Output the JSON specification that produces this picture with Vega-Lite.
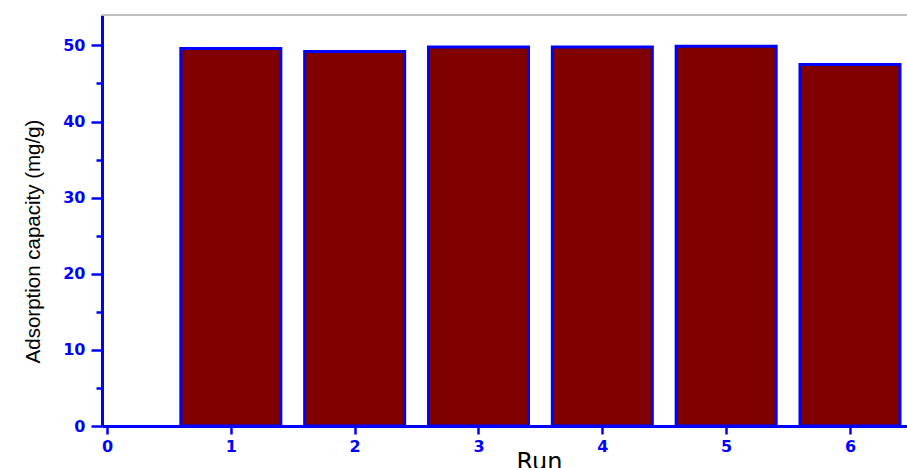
{
  "$schema": "https://vega.github.io/schema/vega-lite/v6.json",
  "width": 805,
  "height": 411,
  "autosize": "none",
  "padding": {"left": 102, "top": 15, "right": 0, "bottom": 42},
  "background": "white",
  "config": {"view": {"stroke": null}, "font": "Liberation Sans"},
  "data": {
    "values": [
      {"run": 1, "capacity": 49.6},
      {"run": 2, "capacity": 49.2},
      {"run": 3, "capacity": 49.8},
      {"run": 4, "capacity": 49.8},
      {"run": 5, "capacity": 49.9},
      {"run": 6, "capacity": 47.5}
    ]
  },
  "layer": [
    {
      "mark": {"type": "rule", "color": "#c0c0c0", "strokeWidth": 2},
      "encoding": {"y": {"datum": 54, "type": "quantitative"}}
    },
    {
      "mark": {"type": "bar", "fill": "#800000", "stroke": "#0000ff", "strokeWidth": 3, "width": 100},
      "encoding": {
        "x": {
          "field": "run",
          "type": "quantitative",
          "scale": {"domain": [0, 6.42], "nice": false, "zero": false},
          "axis": {
            "title": "Run",
            "format": "d",
            "values": [0, 0.5, 1, 1.5, 2, 2.5, 3, 3.5, 4, 4.5, 5, 5.5, 6],
            "labelExpr": "datum.value % 1 === 0 ? datum.label : ''",
            "grid": false,
            "domainColor": "#0000ff",
            "domainWidth": 3,
            "tickColor": "#0000ff",
            "tickWidth": 2.5,
            "tickSize": {"condition": {"test": "datum.value % 1 === 0", "value": 8}, "value": 5},
            "labelColor": "#0000ff",
            "labelFont": "DejaVu Sans",
            "labelFontSize": 16,
            "labelFontWeight": "bold",
            "labelPadding": 4,
            "labelFlush": false,
            "labelOverlap": false,
            "titleFont": "DejaVu Sans",
            "titleFontSize": 24,
            "titleFontWeight": "normal",
            "titleColor": "#000000",
            "titleX": 437,
            "titleY": 24,
            "titleBaseline": "top"
          }
        },
        "y": {
          "field": "capacity",
          "type": "quantitative",
          "scale": {"domain": [0, 54], "nice": false},
          "axis": {
            "title": "Adsorption capacity (mg/g)",
            "values": [0, 5, 10, 15, 20, 25, 30, 35, 40, 45, 50],
            "labelExpr": "datum.value % 10 === 0 ? datum.label : ''",
            "grid": false,
            "domainColor": "#0000ff",
            "domainWidth": 3,
            "tickColor": "#0000ff",
            "tickWidth": 2.5,
            "tickSize": {"condition": {"test": "datum.value % 10 === 0", "value": 11}, "value": 6},
            "labelColor": "#0000ff",
            "labelFont": "DejaVu Sans",
            "labelFontSize": 16,
            "labelFontWeight": "bold",
            "labelPadding": 6,
            "labelFlush": false,
            "labelOverlap": false,
            "titleFont": "Liberation Sans",
            "titleFontSize": 20.5,
            "titleFontWeight": "normal",
            "titleColor": "#000000",
            "titleX": -59,
            "titleY": 226,
            "titleAngle": -90,
            "titleBaseline": "bottom"
          }
        }
      }
    }
  ]
}
